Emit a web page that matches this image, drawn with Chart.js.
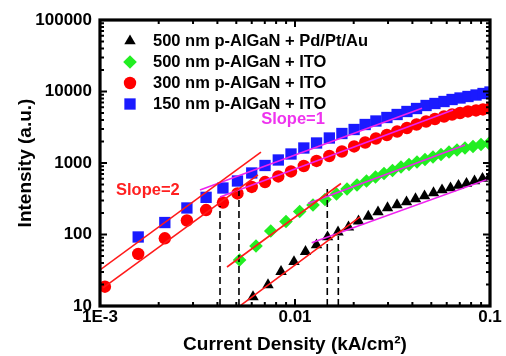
<!DOCTYPE html>
<html>
<head>
<meta charset="utf-8">
<script src="https://cdn.jsdelivr.net/npm/chart.js@4.4.0/dist/chart.umd.min.js"></script>
<style>
  html, body { margin: 0; padding: 0; background: #fff; }
  #wrap { width: 506px; height: 356px; }
</style>
</head>
<body>
<div id="wrap"><canvas id="chart" width="506" height="356"></canvas></div>
<script>
// series names (legend order)
const seriesNames = [
  "500 nm p-AlGaN + Pd/Pt/Au",
  "500 nm p-AlGaN + ITO",
  "300 nm p-AlGaN + ITO",
  "150 nm p-AlGaN + ITO"
];

// current density (kA/cm2) and intensity (a.u.)
const jPdPtAu500 = [0.00609, 0.00727, 0.00848, 0.00988, 0.01132, 0.01289, 0.01468, 0.01662, 0.01881, 0.02117,
  0.02376, 0.02665, 0.02981, 0.03336, 0.03731, 0.04149, 0.04615, 0.05132, 0.05675, 0.06273,
  0.06894, 0.07577, 0.08328, 0.09153, 0.1];
const intPdPtAu500 = [13.4, 19.7, 30.2, 41.6, 57.5, 71.3, 92.3, 108, 127, 154,
  179, 206, 235, 259, 285, 314, 345, 381, 419, 447,
  484, 517, 560, 607, 658];

const jIto500 = [0.0052, 0.00631, 0.00751, 0.00899, 0.01057, 0.01237, 0.01425, 0.01633, 0.01848, 0.02079,
  0.02326, 0.02587, 0.0286, 0.03162, 0.03496, 0.03842, 0.04223, 0.04642, 0.05101, 0.05608,
  0.06163, 0.06773, 0.07444, 0.08181, 0.08992, 0.0988];
const intIto500 = [44, 69, 112, 152, 210, 259, 309, 369, 433, 492,
  560, 637, 713, 786, 879, 953, 1033, 1119, 1213, 1315,
  1425, 1520, 1621, 1702, 1815, 1880];

const jIto300 = [0.00106, 0.00157, 0.00215, 0.00279, 0.0035, 0.00427, 0.00507, 0.006, 0.00702, 0.00821,
  0.00954, 0.0111, 0.0129, 0.015, 0.0174, 0.0201, 0.0229, 0.026, 0.0296, 0.0334,
  0.0375, 0.042, 0.047, 0.0522, 0.0581, 0.0639, 0.0702, 0.0771, 0.0848, 0.0921, 0.1];
const intIto300 = [18.6, 53.4, 88.5, 157, 220, 280, 375, 462, 542, 648,
  761, 908, 1067, 1253, 1448, 1702, 1935, 2201, 2464, 2758,
  3087, 3455, 3805, 4125, 4470, 4768, 5005, 5253, 5426, 5603, 5784];

const jIto150 = [0.00157, 0.00215, 0.00279, 0.0035, 0.00427, 0.00507, 0.006, 0.00702, 0.00821,
  0.00954, 0.0111, 0.0129, 0.015, 0.0174, 0.0201, 0.0229, 0.026, 0.0296, 0.0334,
  0.0375, 0.042, 0.047, 0.0522, 0.0581, 0.0639, 0.0702, 0.0771, 0.0848, 0.0921, 0.1];
const intIto150 = [92.3, 147, 235, 331, 447, 560, 725, 923, 1102,
  1336, 1621, 1905, 2237, 2586, 2941, 3455, 3867, 4329, 4768,
  5253, 5784, 6372, 6795, 7245, 7729, 8111, 8512, 8933, 9376, 9840];

// fitted lines: slope=2 (red) and slope=1 (magenta), end points
const slope2X = [[0.001, 0.00669], [0.001036, 0.00646], [0.00448, 0.01721], [0.005285, 0.02154]];
const slope2Y = [[31.9, 1420], [17.9, 680], [35.1, 517], [10.3, 176]];
const slope1X = [[0.003256, 0.04481], [0.004125, 0.06462], [0.01166, 0.07444], [0.01218, 0.1]];
const slope1Y = [[419, 5821], [334, 5513], [271, 1785], [76.9, 609]];

// dashed markers of the knee current
const kneeX = [0.004125, 0.00516, 0.01464, 0.01668];
const kneeTopY = [250, 446, 444, 95];

// axes
const xTickValues = [0.001, 0.01, 0.1];
const xTickLabels = ["1E-3", "0.01", "0.1"];
const yTickValues = [10, 100, 1000, 10000, 100000];
const yTickLabels = ["10", "100", "1000", "10000", "100000"];

const FONT = '"Liberation Sans", Arial, sans-serif';

function pts(xs, ys) {
  return xs.map((x, i) => ({ x: x, y: ys[i] }));
}

const markerSets = [
  { data: pts(jPdPtAu500, intPdPtAu500), color: "#000000", style: "triangle", r: 6.6 },
  { data: pts(jIto500, intIto500), color: "#22ee22", style: "rectRot", r: 6.8 },
  { data: pts(jIto300, intIto300), color: "#ff0000", style: "circle", r: 6.2 },
  { data: pts(jIto150, intIto150), color: "#1a1aff", style: "rect", r: 8 }
];

const datasets = [];
markerSets.forEach((m, i) => {
  datasets.push({
    label: seriesNames[i],
    data: m.data,
    showLine: false,
    pointStyle: m.style,
    pointRadius: m.r,
    pointHoverRadius: m.r,
    pointBackgroundColor: m.color,
    pointBorderColor: m.color,
    pointBorderWidth: 0,
    backgroundColor: m.color,
    borderColor: m.color,
    order: 2 + (3 - i)
  });
});
slope2X.forEach((xs, i) => {
  datasets.push({
    label: "slope2-" + i,
    data: pts(xs, slope2Y[i]),
    showLine: true,
    pointRadius: 0,
    borderColor: "#ff1a1a",
    borderWidth: 1.6,
    order: 0
  });
});
slope1X.forEach((xs, i) => {
  datasets.push({
    label: "slope1-" + i,
    data: pts(xs, slope1Y[i]),
    showLine: true,
    pointRadius: 0,
    borderColor: "#ee22ee",
    borderWidth: 1.6,
    order: 0
  });
});
kneeX.forEach((x, i) => {
  datasets.push({
    label: "knee-" + i,
    data: [{ x: x, y: 10 }, { x: x, y: kneeTopY[i] }],
    showLine: true,
    pointRadius: 0,
    borderColor: "#000000",
    borderWidth: 1.6,
    borderDash: [7, 4],
    order: 1
  });
});

// frame with inward ticks on all four sides
const framePlugin = {
  id: "frame",
  afterDatasetsDraw(chart) {
    const { ctx, chartArea: a, scales: { x, y } } = chart;
    ctx.save();
    ctx.strokeStyle = "#000";
    ctx.lineWidth = 2;
    ctx.beginPath();
    for (let d = 0.001; d < 0.1; d *= 10) {
      for (let m = 1; m <= 10; m++) {
        const v = d * m;
        const px = x.getPixelForValue(v);
        const len = (m === 1 || m === 10) ? 7 : 4;
        ctx.moveTo(px, a.bottom); ctx.lineTo(px, a.bottom - len);
        ctx.moveTo(px, a.top); ctx.lineTo(px, a.top + len);
      }
    }
    for (let d = 10; d < 100000; d *= 10) {
      for (let m = 1; m <= 10; m++) {
        const v = d * m;
        const py = y.getPixelForValue(v);
        const len = (m === 1 || m === 10) ? 7 : 4;
        ctx.moveTo(a.left, py); ctx.lineTo(a.left + len, py);
        ctx.moveTo(a.right, py); ctx.lineTo(a.right - len, py);
      }
    }
    ctx.stroke();
    ctx.lineWidth = 3.2;
    ctx.strokeRect(a.left, a.top, a.right - a.left, a.bottom - a.top);
    ctx.restore();
  }
};

// legend inside the plot and the slope notes
const notesPlugin = {
  id: "notes",
  afterDraw(chart) {
    const { ctx, scales: { x, y } } = chart;
    ctx.save();
    ctx.textBaseline = "middle";
    ctx.font = "bold 16.5px " + FONT;
    seriesNames.forEach((name, i) => {
      const m = markerSets[i];
      const ly = 41 + i * 21;
      ctx.fillStyle = m.color;
      ctx.strokeStyle = m.color;
      Chart.helpers.drawPoint(ctx, { pointStyle: m.style, radius: m.r, rotation: 0, borderWidth: 0 }, 130, ly);
      ctx.fillStyle = "#000";
      ctx.textAlign = "left";
      ctx.fillText(name, 153, ly);
    });
    ctx.textAlign = "center";
    ctx.fillStyle = "#ff2020";
    ctx.fillText("Slope=2", x.getPixelForValue(0.00176), y.getPixelForValue(419));
    ctx.fillStyle = "#ee33ee";
    ctx.fillText("Slope=1", x.getPixelForValue(0.00977), y.getPixelForValue(4000));
    ctx.restore();
  }
};

new Chart(document.getElementById("chart"), {
  type: "scatter",
  data: { datasets: datasets },
  options: {
    responsive: false,
    animation: false,
    layout: { padding: { top: 20, right: 16, left: 0, bottom: 0 } },
    plugins: { legend: { display: false }, tooltip: { enabled: false } },
    scales: {
      x: {
        type: "logarithmic",
        min: 0.001,
        max: 0.1,
        grid: { display: false, drawTicks: false },
        border: { display: false },
        afterBuildTicks: s => { s.ticks = xTickValues.map(v => ({ value: v })); },
        afterFit: s => { s.height = 50; },
        ticks: {
          padding: 1,
          color: "#000",
          maxRotation: 0,
          font: { family: FONT, size: 17, weight: "bold" },
          callback: (v, i) => xTickLabels[i]
        },
        title: {
          display: true,
          text: "Current Density (kA/cm\u00B2)",
          color: "#000",
          padding: { top: 0, bottom: 0 },
          font: { family: FONT, size: 19, weight: "bold" }
        }
      },
      y: {
        type: "logarithmic",
        min: 10,
        max: 100000,
        grid: { display: false, drawTicks: false },
        border: { display: false },
        afterBuildTicks: s => { s.ticks = yTickValues.map(v => ({ value: v })); },
        afterFit: s => { s.width = 100; },
        ticks: {
          padding: 8,
          color: "#000",
          font: { family: FONT, size: 17, weight: "bold" },
          callback: (v, i) => yTickLabels[i]
        },
        title: {
          display: true,
          text: "Intensity (a.u.)",
          color: "#000",
          padding: { top: 14, bottom: 0 },
          font: { family: FONT, size: 19, weight: "bold" }
        }
      }
    }
  },
  plugins: [framePlugin, notesPlugin]
});
</script>
</body>
</html>
